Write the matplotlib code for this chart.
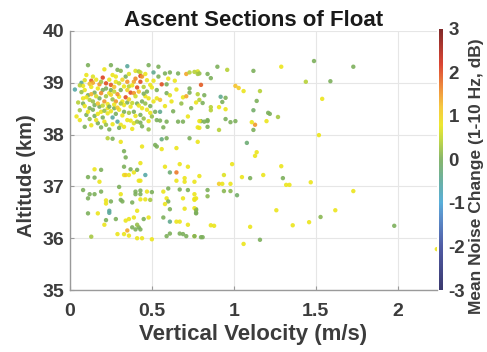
import numpy as np
import matplotlib
matplotlib.use("Agg")
import matplotlib.pyplot as plt
from matplotlib.colors import LinearSegmentedColormap, Normalize

plt.rcParams['font.family'] = ['Liberation Sans', 'DejaVu Sans']
plt.rcParams['font.weight'] = 'bold'
plt.rcParams['axes.unicode_minus'] = False

# ---- upper dense cluster ----
vel_a = [.11, .25, .35, .48, .54, .21, .29, .31, .40, .42, .43, .46, .51, .58, .61, .66, .71, .73, .78, .79,
         .10, .14, .20, .26, .28, .34, .36, .43, .03, .07, .13, .14, .22, .25, .39, .43, .44, .56, .49, .53,
         .41, .33, .37, .34, .39, .24, .09, .11, .08, .15, .17, .20, .22, .18, .21, .23, .26, .28, .30, .32,
         .15, .12, .04, .06, .10, .15, .19, .23, .26, .29, .21, .22, .17, .19, .24, .31, .33, .35, .37, .39,
         .41, .43, .43, .44, .47, .49, .50, .52, .53, .55, .51, .59, .61, .65, .73, .73, .69, .71, .62, .55,
         .53, .55, .57, .59, .66, .69, .72, .74, .77, .78, .82, .84, .27, .30, .33, .37, .39, .33, .41, .44,
         .35, .46, .47, .50, .54, .51, .59, .13, .08, .25, .28, .35, .36, .23, .18, .08, .12, .09, .13,
         .06, .09, .12, .16, .18, .19, .24, .27, .30, .32, .38, .40, .45, .47, .07, .10, .13, .16, .19, .22,
         .25, .27, .29, .31, .35, .40, .42, .45, .48, .05, .09, .14, .17, .20, .24, .27, .29, .31, .36, .38,
         .42, .46, .49, .06, .11, .14, .17, .21, .25, .28, .32, .36, .40, .45, .48, .12, .16, .20, .26, .30,
         .38, .44, .48, .58, .63, .64, .68, .60]
alt_a = [39.34, 39.34, 39.32, 39.34, 39.31, 39.26, 39.25, 39.23, 39.23, 39.22, 39.20, 39.17, 39.20, 39.18, 39.20, 39.18, 39.17, 39.20, 39.22, 39.18,
         39.15, 39.12, 39.10, 39.15, 39.12, 39.12, 39.17, 39.13, 38.87, 39.00, 39.04, 39.00, 38.99, 38.96, 39.02, 39.02, 39.12, 38.97, 38.96, 38.86,
         38.91, 38.93, 38.81, 38.72, 38.80, 38.80, 38.86, 38.76, 38.70, 38.81, 38.89, 38.86, 38.89, 38.70, 38.64, 38.59, 38.68, 38.64, 38.73, 38.64,
         38.57, 38.51, 38.35, 38.28, 38.38, 38.36, 38.44, 38.41, 38.33, 38.25, 38.25, 38.19, 38.22, 38.14, 38.10, 38.19, 38.15, 38.28, 38.27, 38.22,
         38.25, 38.23, 38.38, 38.51, 38.48, 38.42, 38.35, 38.44, 38.70, 38.67, 38.64, 38.80, 38.76, 38.87, 38.89, 38.81, 38.72, 38.74, 38.64, 38.44,
         38.28, 38.27, 38.14, 38.25, 38.25, 38.25, 38.35, 38.51, 38.62, 38.14, 38.25, 38.28, 38.51, 38.48, 38.44, 38.54, 38.44, 38.57, 38.60, 38.64,
         38.62, 38.74, 38.83, 38.91, 39.12, 39.04, 38.97, 38.92, 38.94, 38.86, 39.02, 39.02, 38.93, 38.51, 38.54, 38.60, 38.67, 38.15, 38.18,
         38.95, 39.05, 38.98, 39.06, 38.97, 39.02, 39.06, 38.92, 38.99, 39.06, 38.95, 39.08, 38.92, 39.05, 38.82, 38.72, 38.78, 38.74, 38.80, 38.74,
         38.77, 38.83, 38.78, 38.86, 38.86, 38.74, 38.83, 38.79, 38.70, 38.62, 38.55, 38.64, 38.60, 38.56, 38.54, 38.58, 38.52, 38.60, 38.68, 38.61,
         38.56, 38.60, 38.55, 38.47, 38.44, 38.48, 38.40, 38.46, 38.45, 38.40, 38.37, 38.42, 38.36, 38.31, 38.26, 38.30, 38.28, 38.33, 38.20, 38.13,
         38.11, 38.16, 38.10, 38.55, 38.45, 39.04, 38.60, 39.08]
noise_a = [0, 0, -.5, 0, 0, .8, 0, .1, .7, .3, .5, .8, -.4, 0, 0, 0, 1.4, .4, .7, .2,
           .8, .7, 2.1, .8, .8, 0, .7, 2.0, -.6, -.5, 1.9, 1.4, 2.0, 1.9, 1.4, 2.0, 1.5, 2.0, .8, 0,
           2.0, .8, 2.0, 2.0, 1.5, .8, .8, 0, .8, 0, .8, 0, 0, 0, 1.5, .8, .2, 1.5, .8, .8,
           0, 0, .8, .8, 0, 0, .8, .8, -.5, -.5, .8, .2, 0, 0, 0, .8, .8, .8, .8, .7,
           .2, 0, 0, .8, .8, .8, .2, 0, .8, 1.2, .8, 0, .7, .8, 0, 0, .8, 1.4, .8, -.4,
           0, 0, 0, 0, 0, 0, .8, 0, .8, .8, 0, 0, 0, .8, 0, .8, 0, .8, 0, 0,
           0, .8, 0, .8, 0, .8, 0, .8, .8, 0, .8, 1.5, .4, .8, 0, 0, .4, 0, .8,
           .4, .7, 1.2, .8, 1.5, .3, .8, 1.2, .5, 1.0, .8, 1.6, .4, .8, .2, .8, 1.3, .6, 1.6, .3,
           1.0, .5, 1.5, 0, 1.0, .6, 1.2, 0, .8, .4, .8, .2, 1.2, .5, 0, .8, 1.1, .3, 1.0, .5,
           .8, .2, 0, .3, .8, 0, .8, .2, .8, 0, .8, .3, .8, .2, .8, .2, .8, 0, .8, 0,
           .8, 0, .2, .8, 0, .8, .2, .8]

# ---- lower cluster ----
vel_b = [.23, .26, .31, .44, .52, .53, .56, .56, .59, .65, .73, .78, .33, .34, .33, .43, .15, .19, .37, .39,
         .41, .33, .34, .36, .46, .42, .43, .58, .61, .65, .67, .70, .70, .72, .76, .65, .18, .11, .15, .08,
         .12, .15, .19, .11, .30, .31, .40, .40, .43, .43, .47, .50, .57, .60, .67, .72, .76, .22, .22, .25,
         .31, .32, .38, .43, .46, .49, .59, .60, .58, .61, .69, .76, .77, .11, .17, .24, .24, .28, .22, .21,
         .41, .48, .45, .34, .36, .39, .38, .40, .42, .43, .41, .57, .61, .65, .67, .70, .72, .77, .77, .29,
         .33, .35, .36, .41, .44, .50, .13, .59, .61, .67, .69, .71, .76, .81]
alt_b = [37.93, 37.92, 37.86, 37.77, 37.80, 37.77, 37.72, 37.91, 37.93, 37.74, 37.93, 37.86, 37.68, 37.56, 37.38, 37.45, 37.33, 37.32, 37.33, 37.27,
         37.32, 37.22, 37.22, 37.22, 37.22, 37.11, 37.11, 37.38, 37.27, 37.27, 37.43, 37.16, 37.09, 37.38, 37.09, 37.11, 37.09, 37.18, 37.17, 36.93,
         36.85, 36.85, 36.90, 36.77, 36.99, 36.85, 36.90, 36.85, 36.92, 36.85, 36.90, 36.89, 36.90, 36.96, 36.94, 36.93, 36.85, 36.73, 36.67, 36.71,
         36.74, 36.71, 36.69, 36.75, 36.75, 36.74, 36.77, 36.71, 36.66, 36.56, 36.77, 36.74, 36.77, 36.48, 36.48, 36.53, 36.49, 36.37, 36.35, 36.26,
         36.53, 36.40, 36.37, 36.34, 36.37, 36.40, 36.21, 36.17, 36.21, 36.17, 36.26, 36.40, 36.32, 36.32, 36.32, 36.57, 36.26, 36.56, 36.48, 36.08,
         36.08, 36.15, 36.05, 36.00, 36.00, 35.98, 36.03, 36.04, 36.09, 36.09, 36.08, 36.04, 36.04, 36.02]
noise_b = [.4, 0, .8, .8, 0, 0, .8, -.3, 0, .8, 0, .8, 0, 0, 0, .8, .8, 0, 0, .8,
           0, .8, 1.1, .8, -.6, .8, .8, .8, -.2, 1.7, .8, .8, .8, .8, .8, .8, .8, 0, 0, 0,
           0, 0, 0, 0, 0, .8, 0, 0, 0, 0, .8, 0, .8, 0, 0, 0, .8, .8, .8, 0,
           0, 0, 0, .8, .8, .3, .8, 0, .8, 0, .8, .8, .8, 0, .8, -.5, -.5, 0, 0, .8,
           .8, .8, 0, .8, .8, .8, 0, 0, 0, 0, .2, 0, -.4, .8, .8, .8, .8, 0, 0, .8,
           .8, 1.4, .8, .8, .8, .8, .3, 0, 0, 0, 0, 0, .8, 0]

# ---- faster, sparse points ----
vel_c = [0.90, 0.96, 1.12, 1.29, 1.49, 1.73, 0.80, 1.01, 1.03, 1.06, 1.16, 1.44, 1.59, 1.54, 1.14, 1.12, 1.21, 1.22, 1.27, 1.13,
         1.11, 1.20, 1.12, 1.01, 0.98, 0.95, 0.91, 1.52, 1.08, 0.92, 0.95, 0.93, 0.91, 0.95, 0.82, 0.78, 0.79, 0.81, 0.86, 0.86,
         0.84, 0.80, 0.79, 0.79, 0.84, 0.84, 0.86, 0.76, 0.78,
         1.14, 1.13, 0.99, 1.29, 0.79, 0.94, 1.05, 1.10, 1.18, 1.30, 0.91, 0.93, 0.98, 1.32, 1.34, 1.47, 0.84, 0.94, 0.98, 1.02,
         0.84, 1.73, 0.76, 0.76, 0.77, 0.77, 1.26, 1.62, 1.53, 1.46, 0.86, 0.88, 1.10, 1.36, 1.98, 0.76, 0.80, 1.16, 1.06, 2.24]
alt_c = [39.31, 39.25, 39.23, 39.31, 39.42, 39.31, 38.96, 38.94, 38.90, 38.84, 38.84, 39.02, 39.03, 38.69, 38.65, 38.47, 38.42, 38.40, 38.34, 38.19,
         38.24, 38.26, 38.09, 38.26, 38.24, 38.30, 38.09, 37.99, 37.84, 38.73, 38.71, 38.63, 38.53, 38.49, 38.76, 38.78, 38.67, 38.61, 38.53, 38.47,
         38.26, 38.26, 38.26, 38.13, 38.15, 39.17, 39.09, 39.21, 39.17,
         37.66, 37.59, 37.43, 37.39, 37.20, 37.22, 37.18, 37.16, 37.22, 37.16, 37.05, 37.05, 37.05, 37.03, 37.03, 37.08, 36.93, 36.91, 36.91, 36.83,
         36.81, 36.91, 36.76, 36.58, 36.54, 36.49, 36.54, 36.54, 36.41, 36.31, 36.25, 36.24, 36.22, 36.25, 36.24, 36.04, 36.02, 35.97, 35.89, 35.79]
noise_c = [0, .4, 0, .8, 0, 0, 1.9, 1.2, 1.1, .8, .4, .4, 0, .8, 0, -.1, 0, 0, .3, 1.5,
           .8, .8, 0, 0, 0, 0, .4, .8, -.2, -.4, 0, 0, .8, .8, 0, .4, .4, 0, .4, .4,
           0, 0, .8, .8, 0, 0, 0, .4, .3,
           .8, .8, .8, .8, .8, .7, .8, 0, .8, 0, 1.1, .8, .8, .8, .8, .8, 0, .1, .1, -.1,
           .1, .8, .8, .8, .1, 0, .8, .8, .1, .8, .8, .8, .8, .8, 0, 0, 0, 0, .8, .8]

vel = np.array(vel_a + vel_b + vel_c)
alt = np.array(alt_a + alt_b + alt_c)
noise = np.array(noise_a + noise_b + noise_c)

cmap_nodes = [(-3, '#25235e'), (-2, '#3d4a9c'), (-1.3, '#4a84c6'), (-1, '#46a6d6'), (-0.5, '#5aa89a'),
              (0, '#7aae5c'), (0.45, '#bcd433'), (0.8, '#ece61a'), (1.2, '#f5c42c'), (1.6, '#ef8a2a'),
              (2.2, '#d8321e'), (3, '#731212')]
cmap = LinearSegmentedColormap.from_list('noise', [((v + 3) / 6, c) for v, c in cmap_nodes])
norm = Normalize(-3, 3)

fig = plt.figure(figsize=(4.87, 3.52), dpi=100)
ax = fig.add_axes([0.1437, 0.176, 0.7533, 0.736])
sc = ax.scatter(vel, alt, c=noise, cmap=cmap, norm=norm, s=10, linewidths=0, alpha=0.9, zorder=3)

ax.set_xlim(0, 2.24)
ax.set_ylim(35, 40)
ax.set_xticks([0, 0.5, 1, 1.5, 2])
ax.set_xticklabels(['0', '0.5', '1', '1.5', '2'])
ax.set_yticks([35, 36, 37, 38, 39, 40])
ax.grid(True, color='#e6e6e6', linewidth=0.8, zorder=0)
for s in ['top', 'right']:
    ax.spines[s].set_visible(False)
for s in ['left', 'bottom']:
    ax.spines[s].set_color('#9a9a9a')
    ax.spines[s].set_linewidth(1.0)
ax.tick_params(direction='in', length=3, color='#9a9a9a', labelsize=14, labelcolor='#3c3c3c')
ax.tick_params(axis='x', pad=9)
ax.tick_params(axis='y', pad=4)
for lab in ax.get_xticklabels() + ax.get_yticklabels():
    lab.set_fontweight('bold')

ax.set_title('Ascent Sections of Float', fontsize=16, fontweight='bold', color='#1a1a1a', pad=3)
ax.set_xlabel('Vertical Velocity (m/s)', fontsize=16, fontweight='bold', color='#3c3c3c', labelpad=3)
ax.set_ylabel('Altitude (km)', fontsize=14.5, fontweight='bold', color='#3c3c3c')
ax.yaxis.set_label_coords(-0.092, 0.44)

cax = fig.add_axes([0.901, 0.176, 0.009, 0.742])
cb = fig.colorbar(sc, cax=cax)
cb.set_ticks([-3, -2, -1, 0, 1, 2, 3])
cb.outline.set_visible(False)
cax.tick_params(length=0, labelsize=13.5, labelcolor='#3c3c3c', pad=4)
for lab in cax.get_yticklabels():
    lab.set_fontweight('bold')
fig.text(0.978, 0.50, 'Mean Noise Change (1-10 Hz, dB)', rotation=90, ha='center', va='center',
         fontsize=12.5, fontweight='bold', color='#3c3c3c')

fig.savefig('out.png', dpi=100)
